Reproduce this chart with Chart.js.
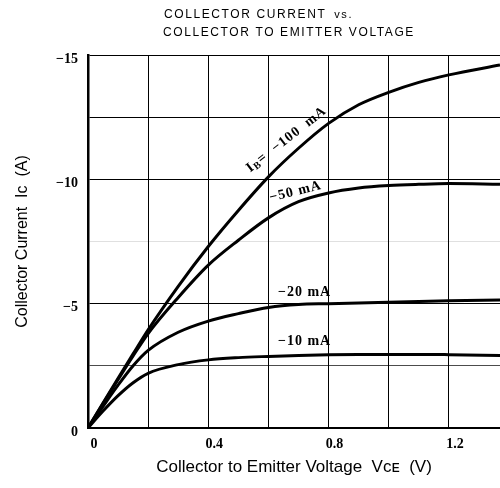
<!DOCTYPE html>
<html><head><meta charset="utf-8">
<script src="https://cdn.jsdelivr.net/npm/chart.js@4"></script>
<style>html,body{margin:0;padding:0;background:#fff}#wrap{width:500px;height:488px}</style>
</head><body><div id="wrap"><canvas id="c" width="500" height="488"></canvas></div>
<script>
// ---- data ----
const titleLines = ['COLLECTOR CURRENT', 'COLLECTOR TO EMITTER VOLTAGE'];
const titleSuffix = 'vs.';
const xAxisTitle = 'Collector to Emitter Voltage  Vᴄᴇ  (V)';
const yAxisTitle = 'Collector Current  Iᴄ  (A)';
const vce   = [0, 0.05, 0.1, 0.15, 0.2, 0.3, 0.4, 0.5, 0.6, 0.7, 0.8, 0.9, 1.0, 1.1, 1.2, 1.37];
const ic100 = [0, -1.0, -2.0, -2.98, -3.95, -5.7, -7.3, -8.75, -10.1, -11.25, -12.25, -13.0, -13.5, -13.9, -14.2, -14.6];
const ic50  = [0, -0.98, -1.95, -2.9, -3.8, -5.25, -6.55, -7.55, -8.45, -9.1, -9.45, -9.65, -9.75, -9.8, -9.83, -9.8];
const ic20  = [0, -0.87, -1.72, -2.5, -3.12, -3.85, -4.3, -4.6, -4.85, -4.97, -5.0, -5.03, -5.06, -5.09, -5.12, -5.15];
const ic10  = [0, -0.68, -1.3, -1.82, -2.2, -2.55, -2.74, -2.83, -2.88, -2.92, -2.95, -2.96, -2.96, -2.96, -2.95, -2.92];
const seriesNames = ['−100 mA', '−50 mA', '−20 mA', '−10 mA'];
const xTickValues = [0, 0.2, 0.4, 0.6, 0.8, 1.0, 1.2];
const xTickLabels = ['0', '', '0.4', '', '0.8', '', '1.2'];
const yTickValues = [-15, -12.5, -10, -7.5, -5, -2.5, 0];
const yTickLabels = ['−15', '', '−10', '', '−5', '', '0'];

const pts = arr => vce.map((v, i) => ({x: v, y: arr[i]}));
const seriesData = [ic100, ic50, ic20, ic10];

const labelPlugin = {
  id: 'labels',
  afterDraw(chart) {
    const ctx = chart.ctx, xs = chart.scales.x, ys = chart.scales.y;
    ctx.save();
    ctx.fillStyle = '#000';
    // chart title
    ctx.font = '12px "Liberation Sans", Arial, sans-serif';
    ctx.letterSpacing = '1.6px';
    ctx.textAlign = 'left';
    ctx.textBaseline = 'alphabetic';
    ctx.fillText(titleLines[0], 164, 18);
    const w0 = ctx.measureText(titleLines[0] + ' ').width;
    ctx.font = '11px "Liberation Sans", Arial, sans-serif';
    ctx.fillText(titleSuffix, 164 + w0 + 3, 18);
    ctx.font = '12px "Liberation Sans", Arial, sans-serif';
    ctx.fillText(titleLines[1], 163, 36);
    // curve labels, anchored in data coordinates
    const defs = [
      {pre: true, text: seriesNames[0], v: 0.66, i: -11.6, a: -38},
      {text: seriesNames[1], v: 0.69, i: -9.5, a: -14},
      {text: seriesNames[2], v: 0.72, i: -5.45, a: 0},
      {text: seriesNames[3], v: 0.72, i: -3.5, a: 0}
    ];
    ctx.letterSpacing = '1px';
    ctx.textBaseline = 'middle';
    defs.forEach(d => {
      ctx.save();
      ctx.translate(xs.getPixelForValue(d.v), ys.getPixelForValue(d.i));
      ctx.rotate(d.a * Math.PI / 180);
      const big = 'bold 14px "Liberation Serif", "Times New Roman", serif';
      const small = 'bold 10px "Liberation Serif", "Times New Roman", serif';
      ctx.font = big;
      let parts;
      if (d.pre) parts = [['I', big, 0], ['B', small, 3], ['=  ' + d.text.replace(' mA', '  mA'), big, 0]];
      else parts = [[d.text, big, 0]];
      let total = 0;
      parts.forEach(p => { ctx.font = p[1]; total += ctx.measureText(p[0]).width; });
      let x = -total / 2;
      ctx.textAlign = 'left';
      parts.forEach(p => { ctx.font = p[1]; ctx.fillText(p[0], x, p[2]); x += ctx.measureText(p[0]).width; });
      ctx.restore();
    });
    ctx.restore();
  }
};

new Chart(document.getElementById('c'), {
  type: 'line',
  data: {
    datasets: seriesData.map((arr, k) => ({
      label: seriesNames[k],
      data: pts(arr),
      borderColor: '#000',
      borderWidth: 3,
      pointRadius: 0,
      cubicInterpolationMode: 'monotone',
      fill: false
    }))
  },
  options: {
    responsive: false,
    animation: false,
    devicePixelRatio: 1,
    layout: {padding: {top: 55, left: 0, right: 0, bottom: 0}},
    plugins: {legend: {display: false}, tooltip: {enabled: false}, title: {display: false}},
    scales: {
      x: {
        type: 'linear', min: 0, max: 1.37,
        afterBuildTicks: s => { s.ticks = xTickValues.map(v => ({value: v})); },
        afterFit: s => { s.height = 60; },
        grid: {color: '#000', lineWidth: 1, drawTicks: false},
        border: {color: '#000', width: 2},
        ticks: {
          color: '#000', padding: 8, labelOffset: 6, maxRotation: 0, autoSkip: false,
          font: {family: '"Liberation Serif", "Times New Roman", serif', size: 14, weight: 'bold'},
          callback: v => xTickLabels[xTickValues.indexOf(v)]
        },
        title: {display: true, text: xAxisTitle, color: '#000',
          font: {family: '"Liberation Sans", Arial, sans-serif', size: 17}, padding: {top: 0, bottom: 10}}
      },
      y: {
        type: 'linear', min: -15, max: 0, reverse: true,
        afterBuildTicks: s => { s.ticks = yTickValues.map(v => ({value: v})); },
        afterFit: s => { s.width = 88; },
        grid: {
          drawTicks: false, lineWidth: 1,
          color: c => c.tick && c.tick.value === -7.5 ? 'rgba(0,0,0,0.12)' : (c.tick && c.tick.value === -2.5 ? 'rgba(0,0,0,0.7)' : '#000')
        },
        border: {color: '#000', width: 2.5},
        ticks: {
          color: '#000', padding: 10, labelOffset: 4, autoSkip: false,
          font: {family: '"Liberation Serif", "Times New Roman", serif', size: 14, weight: 'bold'},
          callback: v => yTickLabels[yTickValues.indexOf(v)]
        },
        title: {display: true, text: yAxisTitle, color: '#000',
          font: {family: '"Liberation Sans", Arial, sans-serif', size: 16}, padding: {top: 13, bottom: 0}}
      }
    }
  },
  plugins: [labelPlugin]
});
</script>
</body></html>
